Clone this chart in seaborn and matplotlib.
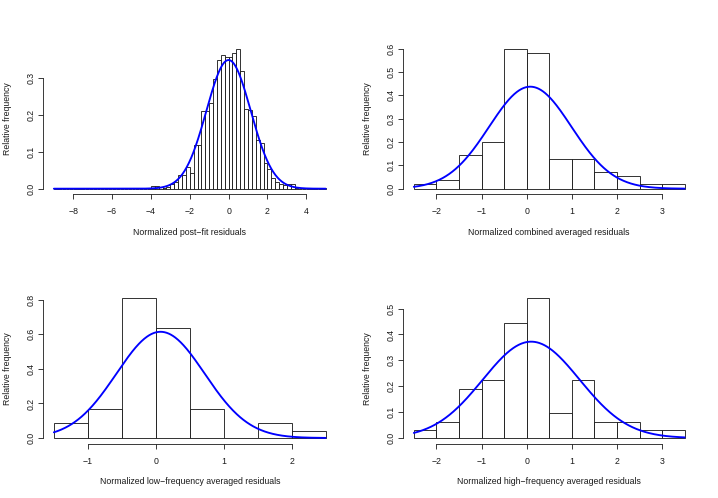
import numpy as np
import pandas as pd
import seaborn as sns
import matplotlib.pyplot as plt

# post-fit residuals: relative frequency in 0.2 wide bins from -9 to 5
post_fit_edges = np.round(np.arange(-9.0, 5.01, 0.2), 1)
post_fit_density = [
    0.003, 0, 0, 0, 0, 0, 0.003, 0, 0, 0,
    0, 0, 0, 0, 0, 0, 0, 0, 0, 0,
    0, 0, 0, 0, 0, 0.007, 0.007, 0.004, 0.003, 0.004,
    0.013, 0.019, 0.038, 0.037, 0.058, 0.044, 0.119, 0.120, 0.212, 0.212,
    0.232, 0.297, 0.350, 0.364, 0.359, 0.357, 0.368, 0.381, 0.320, 0.218,
    0.214, 0.198, 0.132, 0.123, 0.069, 0.054, 0.028, 0.019, 0.013, 0.010,
    0.012, 0.012, 0.003, 0, 0, 0, 0.003, 0, 0, 0.003,
]
post_fit_mean, post_fit_sd = 0.0, 1.14

# averaged residuals: counts in 0.5 wide bins
combined_edges = [-2.5, -2.0, -1.5, -1.0, -0.5, 0.0, 0.5, 1.0, 1.5, 2.0, 2.5, 3.0, 3.5]
combined_counts = [1, 2, 8, 11, 33, 32, 7, 7, 4, 3, 1, 1]
combined_mean, combined_sd = 0.08, 0.913

low_edges = [-1.5, -1.0, -0.5, 0.0, 0.5, 1.0, 1.5, 2.0, 2.5]
low_counts = [2, 4, 19, 15, 4, 0, 2, 1]
low_mean, low_sd = 0.07, 0.649

high_edges = [-2.5, -2.0, -1.5, -1.0, -0.5, 0.0, 0.5, 1.0, 1.5, 2.0, 2.5, 3.0, 3.5]
high_counts = [1, 2, 6, 7, 14, 17, 3, 7, 2, 2, 1, 1]
high_mean, high_sd = 0.1, 1.072

sns.set_style("ticks")
plt.rcParams['font.family'] = ['Liberation Sans', 'DejaVu Sans']
plt.rcParams['font.size'] = 6.3
plt.rcParams['text.color'] = '#1a1a1a'
plt.rcParams['xtick.color'] = '#1a1a1a'
plt.rcParams['ytick.color'] = '#1a1a1a'
plt.rcParams['axes.labelcolor'] = '#1a1a1a'

W, H = 718, 498
fig = plt.figure(figsize=(W / 100, H / 100), dpi=100)


def px_axes(x0, y0, x1, y1):
    return fig.add_axes([x0 / W, 1 - y1 / H, (x1 - x0) / W, (y1 - y0) / H])


def draw_panel(ax, edges, values, stat, mean, sd, xticks, yticks, xlabel):
    edges = [float(e) for e in edges]
    df = pd.DataFrame({
        'x': [(a + b) / 2 for a, b in zip(edges[:-1], edges[1:])],
        'w': [float(v) for v in values],
    })
    sns.histplot(data=df, x='x', weights='w', bins=edges, stat=stat, ax=ax,
                 color='white', edgecolor='#111111', linewidth=0.6, alpha=1)
    xs = np.linspace(edges[0], edges[-1], 500)
    pdf = np.exp(-0.5 * ((xs - mean) / sd) ** 2) / (sd * np.sqrt(2 * np.pi))
    sns.lineplot(x=xs, y=pdf, color='blue', linewidth=1.35, ax=ax)

    # R style limits: data range plus 4 %
    top = max(p.get_height() for p in ax.patches)
    dx = 0.04 * (edges[-1] - edges[0])
    ax.set_xlim(edges[0] - dx, edges[-1] + dx)
    ax.set_ylim(-0.04 * top, top * 1.04)

    ax.set_xticks(xticks)
    ax.set_yticks(yticks)
    ax.set_xticklabels([f"{t:g}".replace('-', '\u2212') for t in xticks])
    ax.set_yticklabels([f"{t:.1f}" for t in yticks], rotation=90, va='center')
    ax.tick_params(axis='both', direction='out', length=3.8, width=0.6,
                   bottom=True, left=True, top=False, right=False)
    ax.tick_params(axis='x', pad=5.5)
    ax.tick_params(axis='y', pad=1.2)
    for s in ['top', 'right']:
        ax.spines[s].set_visible(False)
    ax.spines['bottom'].set_bounds(xticks[0], xticks[-1])
    ax.spines['left'].set_bounds(yticks[0], yticks[-1])
    for s in ['bottom', 'left']:
        ax.spines[s].set_linewidth(0.6)
        ax.spines[s].set_color('#1a1a1a')
    ax.grid(False)

    ax.set_xlabel(xlabel)
    ax.set_ylabel('Relative frequency')
    ax.xaxis.label.set_va('center')
    ax.yaxis.label.set_va('center')
    bbox = ax.get_position()
    h_px = bbox.height * H
    w_px = bbox.width * W
    ax.xaxis.set_label_coords(0.5, -38 / h_px)
    ax.yaxis.set_label_coords(-35 / w_px, 0.5)


ax1 = px_axes(43, 43, 336.5, 194.3)
draw_panel(ax1, post_fit_edges, post_fit_density, 'count', post_fit_mean, post_fit_sd,
           [-8, -6, -4, -2, 0, 2, 4], [0.0, 0.1, 0.2, 0.3],
           'Normalized post\u2212fit residuals')

ax2 = px_axes(403, 43, 695.5, 194.3)
draw_panel(ax2, combined_edges, combined_counts, 'density', combined_mean, combined_sd,
           [-2, -1, 0, 1, 2, 3], [0.0, 0.1, 0.2, 0.3, 0.4, 0.5, 0.6],
           'Normalized combined averaged residuals')

ax3 = px_axes(43, 292.7, 336.5, 443.6)
draw_panel(ax3, low_edges, low_counts, 'density', low_mean, low_sd,
           [-1, 0, 1, 2], [0.0, 0.2, 0.4, 0.6, 0.8],
           'Normalized low\u2212frequency averaged residuals')

ax4 = px_axes(403, 292.7, 695.5, 443.6)
draw_panel(ax4, high_edges, high_counts, 'density', high_mean, high_sd,
           [-2, -1, 0, 1, 2, 3], [0.0, 0.1, 0.2, 0.3, 0.4, 0.5],
           'Normalized high\u2212frequency averaged residuals')

fig.savefig('out.png', dpi=100)
